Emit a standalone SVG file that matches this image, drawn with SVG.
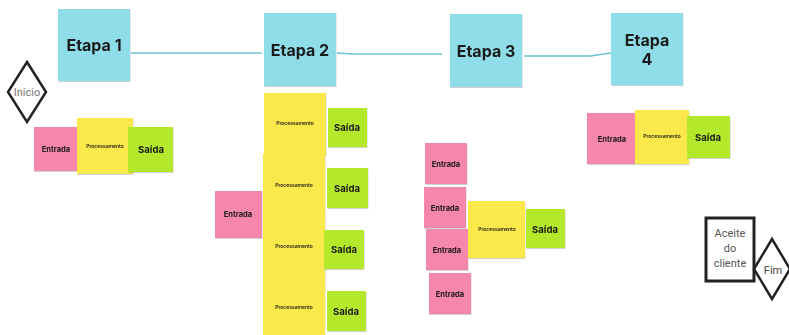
<svg xmlns="http://www.w3.org/2000/svg" width="789" height="335" viewBox="0 0 789 335">
<style>
.c{fill:#8fdde8}
.p{fill:#f587ad}
.y{fill:#fbe84b}
.g{fill:#b4e82a}
.n{filter:url(#sh)}
.t{font-family:Inter,"Open Sans",sans-serif;font-weight:700;fill:#1a1a1a;text-anchor:middle;dominant-baseline:central}
.et{font-size:16px}
.en{font-size:7.5px}
.sa{font-size:9.5px}
.pr{font-size:5px;font-weight:600}
.r{font-family:Roboto,"Liberation Sans",sans-serif;font-size:11px;fill:#555;text-anchor:middle;dominant-baseline:central}
.ln{stroke:#6cc3d3;stroke-width:1.6;fill:none}
.bk{fill:#fff;stroke:#222;stroke-width:3}
</style>
<defs>
<filter id="sh" x="-10%" y="-10%" width="130%" height="130%">
<feDropShadow dx="0.5" dy="1" stdDeviation="0.7" flood-color="#000" flood-opacity="0.18"/>
</filter>
</defs>
<g id="connectors">
<path class="ln" d="M131 53 L262 53"/>
<path class="ln" d="M337 53 L352 54 L442 54"/>
<path class="ln" d="M524 56 L590 56 L611 53"/>
</g>
<g id="etapa1" class="n"><rect class="c" x="58" y="9" width="72" height="72"/><text class="t et" x="94" y="45">Etapa 1</text></g>
<g id="etapa2" class="n"><rect class="c" x="264" y="13" width="72" height="73"/><text class="t et" x="300" y="50">Etapa 2</text></g>
<g id="etapa3" class="n"><rect class="c" x="450" y="14" width="72" height="73"/><text class="t et" x="486" y="51">Etapa 3</text></g>
<g id="etapa4" class="n"><rect class="c" x="611" y="13" width="72" height="72"/><text class="t et" x="647" y="40">Etapa</text><text class="t et" x="647" y="59">4</text></g>
<g id="inicio"><polygon class="bk" points="27,62 46,92 27,122 8,92" style="stroke-width:2.5"/><text class="r" x="27" y="92" style="fill:#777">Início</text></g>

<g id="e1-entrada" class="n"><rect class="p" x="34" y="127" width="43" height="44"/><text class="t en" x="56" y="149">Entrada</text></g>
<g id="e1-proc" class="n"><rect class="y" x="77" y="118" width="56" height="56"/><text class="t pr" x="105" y="146">Processamento</text></g>
<g id="e1-saida" class="n"><rect class="g" x="128" y="127" width="45" height="45"/><text class="t sa" x="151" y="149">Saída</text></g>

<g id="e2-proc-a" class="n"><rect class="y" x="264" y="93" width="62" height="62"/><text class="t pr" x="295" y="123">Processamento</text></g>
<g id="e2-saida-a" class="n"><rect class="g" x="328" y="108" width="39" height="39"/><text class="t sa" x="347" y="127">Saída</text></g>
<g id="e2-proc-b" class="n"><rect class="y" x="263" y="154" width="62" height="63"/><text class="t pr" x="294" y="185">Processamento</text></g>
<g id="e2-saida-b" class="n"><rect class="g" x="327" y="168" width="41" height="40"/><text class="t sa" x="347" y="188">Saída</text></g>
<g id="e2-entrada" class="n"><rect class="p" x="215" y="191" width="47" height="47"/><text class="t en" x="238" y="214">Entrada</text></g>
<g id="e2-proc-c" class="n"><rect class="y" x="263" y="215" width="62" height="62"/><text class="t pr" x="294" y="246">Processamento</text></g>
<g id="e2-saida-c" class="n"><rect class="g" x="324" y="230" width="40" height="39"/><text class="t sa" x="344" y="249">Saída</text></g>
<g id="e2-proc-d" class="n"><rect class="y" x="263" y="276" width="62" height="62"/><text class="t pr" x="294" y="307">Processamento</text></g>
<g id="e2-saida-d" class="n"><rect class="g" x="327" y="291" width="39" height="40"/><text class="t sa" x="346" y="311">Saída</text></g>

<g id="e3-entrada-a" class="n"><rect class="p" x="425" y="143" width="42" height="41"/><text class="t en" x="446" y="164">Entrada</text></g>
<g id="e3-entrada-b" class="n"><rect class="p" x="424" y="187" width="42" height="41"/><text class="t en" x="445" y="208">Entrada</text></g>
<g id="e3-entrada-c" class="n"><rect class="p" x="426" y="229" width="42" height="41"/><text class="t en" x="447" y="250">Entrada</text></g>
<g id="e3-entrada-d" class="n"><rect class="p" x="429" y="273" width="42" height="41"/><text class="t en" x="450" y="294">Entrada</text></g>
<g id="e3-proc" class="n"><rect class="y" x="468" y="201" width="57" height="57"/><text class="t pr" x="497" y="229">Processamento</text></g>
<g id="e3-saida" class="n"><rect class="g" x="526" y="209" width="39" height="39"/><text class="t sa" x="545" y="229">Saída</text></g>

<g id="e4-entrada" class="n"><rect class="p" x="587" y="113" width="48" height="51"/><text class="t en" x="612" y="139">Entrada</text></g>
<g id="e4-proc" class="n"><rect class="y" x="635" y="110" width="54" height="54"/><text class="t pr" x="662" y="136">Processamento</text></g>
<g id="e4-saida" class="n"><rect class="g" x="687" y="116" width="43" height="42"/><text class="t sa" x="708" y="137">Saída</text></g>

<g id="aceite"><rect class="bk" x="706" y="218" width="48" height="63"/><text class="r" x="730" y="233">Aceite</text><text class="r" x="730" y="248">do</text><text class="r" x="730" y="263">cliente</text></g>
<g id="fim"><polygon class="bk" points="772,239 790,269 772,299 754,269" style="stroke-width:2.5"/><text class="r" x="773" y="270" style="fill:#444">Fim</text></g>
</svg>
